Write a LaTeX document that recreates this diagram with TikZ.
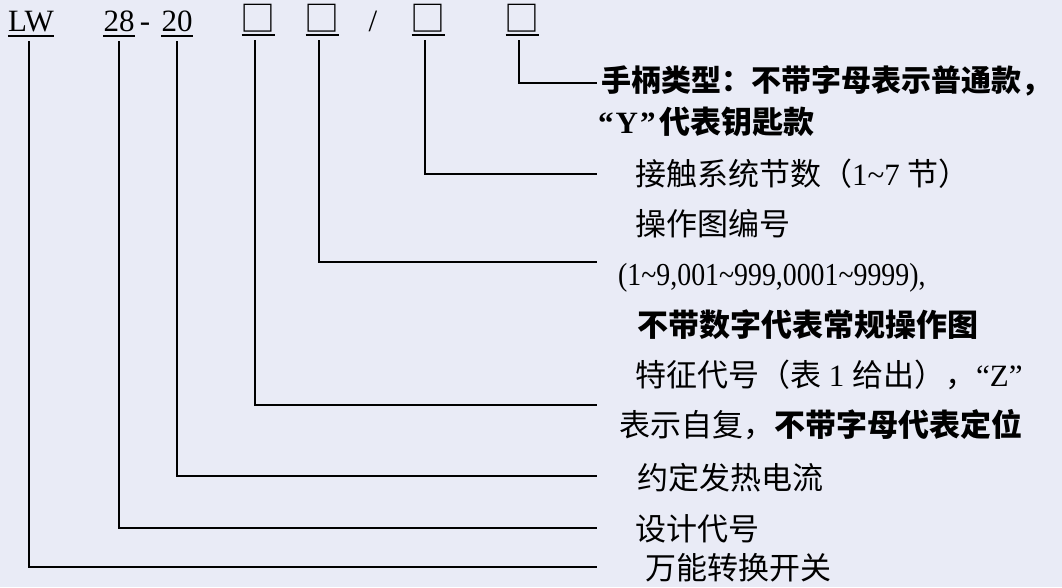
\documentclass[tikz,border=0pt]{standalone}
\usepackage{fontspec}
\setmainfont{Liberation Serif}
\newfontfamily\cjk{Noto Sans CJK SC}
\newfontfamily\narrowrm{Liberation Serif}[FakeStretch=0.87]
\definecolor{paper}{RGB}{233,235,246}
\begin{document}
\begin{tikzpicture}[x=1pt,y=-1pt,
  code/.style={font=\fontsize{31}{31}\selectfont, inner sep=0pt, anchor=base},
  slot/.style={font=\cjk\fontsize{35}{35}\selectfont, inner sep=0pt, anchor=base},
  txt/.style={font=\fontsize{31}{31}\selectfont, inner sep=0pt, anchor=base west},
  lead/.style={draw,line width=1.6pt}]
\fill[paper] (0,0) rectangle (1062,587);
\useasboundingbox (0,0) rectangle (1062,587);

% model code
\node[code] (lw) at (31,31) {LW};
\node[code] (28) at (119,31) {28};
\node[code] (dash) at (145,31) {-};
\node[code] (20) at (177,31) {20};
\node[slot] (b1) at (258,31) {□};
\node[slot] (b2) at (322,31) {□};
\node[code] (slash) at (373,31) {/};
\node[slot] (b3) at (428,31) {□};
\node[slot] (b4) at (522,31) {□};
\foreach \n in {lw,28,20}
  \path[draw,line width=1.6pt] ([yshift=-5pt]\n.base west) -- ([yshift=-5pt]\n.base east);
\foreach \n in {b1,b2,b3,b4}
  \path[draw,line width=1.6pt] ([xshift=-16.5pt,yshift=-4pt]\n.base) -- ([xshift=16.5pt,yshift=-4pt]\n.base);

% explanations
\node[txt,font=\fontsize{30}{30}\selectfont] (t4a) at (601,91) {\cjk\bfseries 手柄类型：不带字母表示普通款，};
\node[txt] (t4b) at (598,133) {\bfseries “\kern2pt Y\kern2pt”\kern4pt{\cjk 代表钥匙款}};
\node[txt] (t3) at (635,185) {{\cjk 接触系统节数（}1\textasciitilde7\ {\cjk 节）}};
\node[txt] (t2a) at (635,235) {\cjk 操作图编号};
\node[txt] (t2b) at (618,285) {\narrowrm\fontsize{32}{32}\selectfont (1\textasciitilde9,001\textasciitilde999,0001\textasciitilde9999),};
\node[txt] (t2c) at (637,336) {\cjk\bfseries 不带数字代表常规操作图};
\node[txt] (t1a) at (635,386) {{\cjk 特征代号（表}\ 1\ {\cjk 给出），}“Z”};
\node[txt] (t1b) at (619,436) {\cjk 表示自复，{\bfseries 不带字母代表定位}};
\node[txt] (t20) at (637,489) {\cjk 约定发热电流};
\node[txt] (t28) at (635,540) {\cjk 设计代号};
\node[txt] (tlw) at (645,579) {\cjk 万能转换开关};

% leaders
\coordinate (e4) at (597,83);
\coordinate (e3) at (597,174);
\coordinate (e2) at (597,262);
\coordinate (e1) at (597,405);
\coordinate (e20) at (597,476);
\coordinate (e28) at (597,528);
\coordinate (elw) at (597,567);
\path[lead] ([xshift=-3pt,yshift=-9pt]b4.base) |- (e4);
\path[lead] ([xshift=-3pt,yshift=-9pt]b3.base) |- (e3);
\path[lead] ([xshift=-3pt,yshift=-9pt]b2.base) |- (e2);
\path[lead] ([xshift=-3pt,yshift=-9pt]b1.base) |- (e1);
\path[lead] ([yshift=-10pt]20.base) |- (e20);
\path[lead] ([yshift=-10pt]28.base) |- (e28);
\path[lead] ([xshift=-2pt,yshift=-10pt]lw.base) |- (elw);
\end{tikzpicture}
\end{document}
